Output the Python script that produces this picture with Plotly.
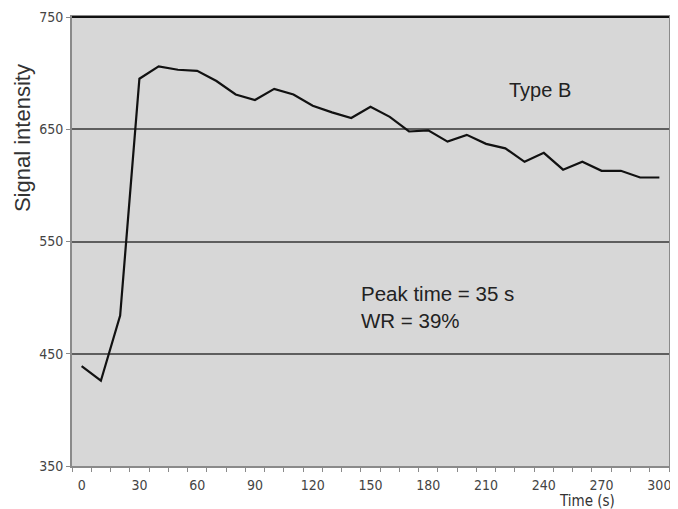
import plotly.graph_objects as go

time_s = [0, 10, 20, 30, 40, 50, 60, 70, 80, 90, 100, 110, 120, 130, 140, 150,
          160, 170, 180, 190, 200, 210, 220, 230, 240, 250, 260, 270, 280, 290, 300]
signal = [439, 426, 484, 695, 706, 703, 702, 693, 681, 676, 686, 681, 671, 665, 660, 670,
          661, 648, 649, 639, 645, 637, 633, 621, 629, 614, 621, 613, 613, 607, 607]
x_ticks = [0, 30, 60, 90, 120, 150, 180, 210, 240, 270, 300]
y_ticks = [350, 450, 550, 650, 750]

narrow = "Liberation Sans Narrow, DejaVu Sans Condensed, Arial Narrow, Arial"
tick_font = dict(family=narrow, size=14, color="#444")

fig = go.Figure()
fig.add_trace(go.Scatter(x=time_s, y=signal, mode="lines",
                         line=dict(color="#111", width=2.2), showlegend=False))

fig.update_layout(
    width=670, height=501,
    margin=dict(l=64, r=9, t=9, b=43, autoexpand=False),
    paper_bgcolor="white",
    plot_bgcolor="#d7d7d7",
    xaxis=dict(range=[-5, 305], tickvals=x_ticks, ticks="", showgrid=False,
               automargin=False,
               zeroline=False, showline=True, linecolor="#8a8a8a", linewidth=2,
               mirror=True, tickfont=tick_font, ticklabelstandoff=5,
               minor=dict(tick0=-5, dtick=10, ticks="outside", ticklen=4,
                          tickcolor="#8a8a8a", showgrid=False)),
    yaxis=dict(range=[350, 750], tickvals=y_ticks, ticks="outside", ticklen=4,
               automargin=False,
               tickcolor="#8a8a8a", showgrid=True, gridcolor="#5e5e5e", gridwidth=1.5,
               zeroline=False, showline=True, linecolor="#8a8a8a", linewidth=2,
               mirror=True, tickfont=tick_font),
    shapes=[dict(type="line", xref="paper", yref="paper", x0=0, x1=1, y0=1, y1=1,
                 line=dict(color="#111", width=2))],
    annotations=[
        dict(text="Signal intensity", textangle=-90, xref="paper", yref="paper",
             x=-0.084, y=0.73, showarrow=False, xanchor="center", yanchor="middle",
             font=dict(family="Liberation Sans, Arial", size=22, color="#333")),
        dict(text="Type B", x=238, y=685, showarrow=False, xanchor="center",
             yanchor="middle",
             font=dict(family="Liberation Sans, Arial", size=20, color="#222")),
        dict(text="Peak time = 35 s<br>WR = 39%", x=144, y=492, showarrow=False,
             xanchor="left", yanchor="middle", align="left",
             font=dict(family="Liberation Sans, Arial", size=20.5, color="#222")),
        dict(text="Time (s)", xref="x", yref="paper", x=262.5, y=-0.078,
             showarrow=False, xanchor="center", yanchor="middle",
             font=dict(family=narrow, size=15, color="#333")),
    ],
)

fig.write_html("out.html")
